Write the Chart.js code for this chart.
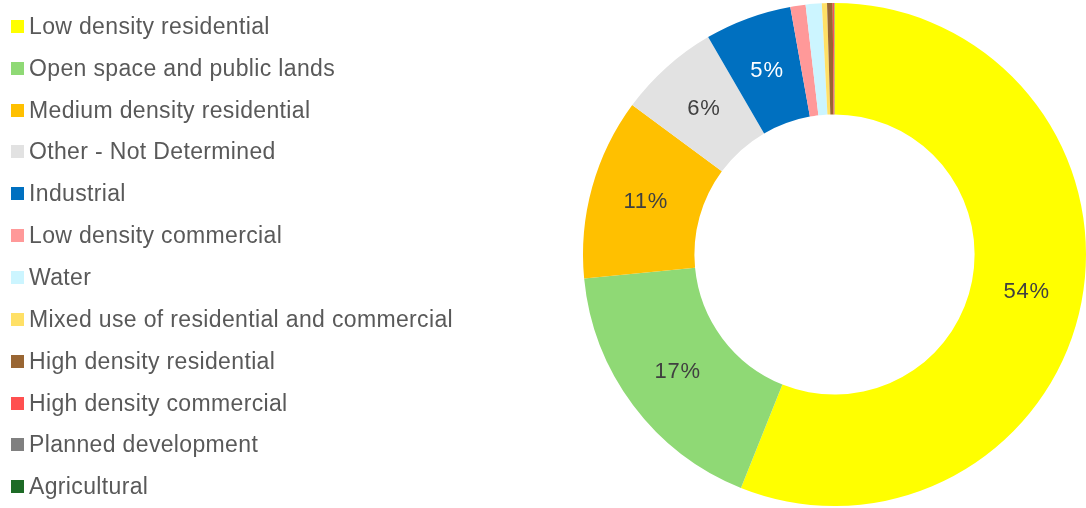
<!DOCTYPE html>
<html>
<head>
<meta charset="utf-8">
<title>Land use</title>
<script src="https://cdn.jsdelivr.net/npm/chart.js@4.4.1/dist/chart.umd.min.js"></script>
<style>
    html, body {
        margin: 0;
        padding: 0;
        background: #ffffff;
    }
    .wrap {
        position: relative;
        width: 1086px;
        height: 508px;
        overflow: hidden;
    }
    #landUseChart {
        position: absolute;
        left: 0;
        top: 0;
    }
    #landUseLegend {
        position: absolute;
        left: 11px;
        top: 5.4px;
        margin: 0;
        padding: 0;
        list-style: none;
        font-family: "Liberation Sans", Arial, sans-serif;
        font-size: 23px;
        letter-spacing: 0.35px;
        color: #595959;
    }
    #landUseLegend li {
        display: flex;
        align-items: center;
        height: 41.86px;
        white-space: nowrap;
    }
    #landUseLegend .swatch {
        display: inline-block;
        width: 13px;
        height: 13px;
        margin-right: 5px;
    }
</style>
</head>
<body>
<div class="wrap">
    <canvas id="landUseChart" width="1086" height="508"></canvas>
    <ul id="landUseLegend"></ul>
</div>
<script>
// Share of land by use, in percent
const categories = [
    'Low density residential',
    'Open space and public lands',
    'Medium density residential',
    'Other - Not Determined',
    'Industrial',
    'Low density commercial',
    'Water',
    'Mixed use of residential and commercial',
    'High density residential',
    'High density commercial',
    'Planned development',
    'Agricultural'
];
const shares = [54.4, 16.9, 11.3, 6.3, 5.4, 0.95, 1.0, 0.32, 0.35, 0.08, 0.02, 0.01];
const sliceColors = [
    '#ffff00', '#8fd975', '#ffc000', '#e2e2e2', '#0070c0', '#ff9999',
    '#ccf5ff', '#ffe066', '#996633', '#ff5050', '#808080', '#1d6b26'
];
const labelColors = [
    '#404040', '#404040', '#404040', '#404040', '#ffffff', '#404040',
    '#404040', '#404040', '#404040', '#404040', '#404040', '#404040'
];

// Percent labels in the middle of the bigger slices
const sliceLabels = {
    id: 'sliceLabels',
    afterDatasetsDraw(chart) {
        const ctx = chart.ctx;
        const meta = chart.getDatasetMeta(0);
        ctx.save();
        ctx.font = '22px "Liberation Sans", Arial, sans-serif';
        ctx.letterSpacing = '0.8px';
        ctx.textAlign = 'center';
        ctx.textBaseline = 'middle';
        meta.data.forEach((arc, i) => {
            if (shares[i] < 2) return;
            const pos = arc.tooltipPosition();
            ctx.fillStyle = labelColors[i];
            ctx.fillText(Math.round(shares[i]) + '%', pos.x, pos.y);
        });
        ctx.restore();
    }
};

const ctx = document.getElementById('landUseChart').getContext('2d');
const landUseChart = new Chart(ctx, {
    type: 'doughnut',
    data: {
        labels: categories,
        datasets: [{
            data: shares,
            backgroundColor: sliceColors,
            borderWidth: 0
        }]
    },
    options: {
        responsive: false,
        animation: false,
        cutout: '55.7%',
        layout: {
            padding: { left: 583, top: 3, right: 0, bottom: 2 }
        },
        plugins: {
            legend: { display: false },
            tooltip: { enabled: false }
        }
    },
    plugins: [sliceLabels]
});

// Legend list on the left, one row per category
const legendList = document.getElementById('landUseLegend');
categories.forEach((name, i) => {
    const li = document.createElement('li');
    const swatch = document.createElement('span');
    swatch.className = 'swatch';
    swatch.style.background = sliceColors[i];
    li.appendChild(swatch);
    li.appendChild(document.createTextNode(name));
    legendList.appendChild(li);
});
</script>
</body>
</html>
